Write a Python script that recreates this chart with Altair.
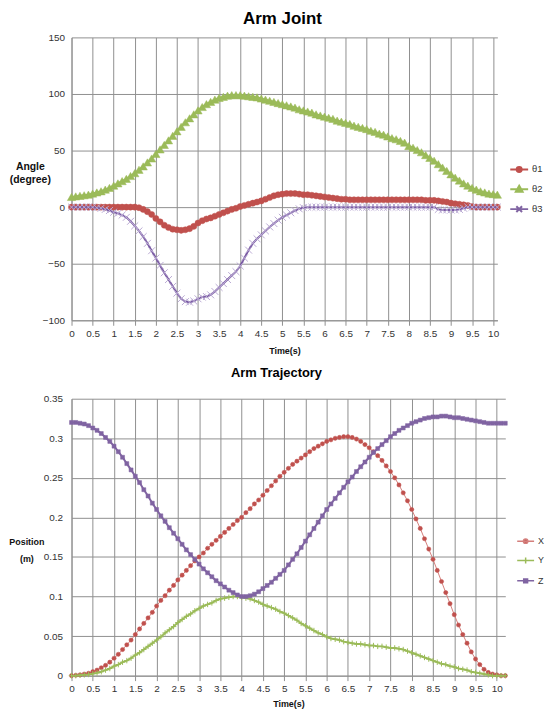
import altair as alt
import pandas as pd

# ---------------- data: top chart (Arm Joint) ----------------
time_top = [round(i * 0.1, 1) for i in range(102)]          # 0.0 .. 10.1 s
theta_names = ["θ1", "θ2", "θ3"]

theta1 = [0, 0, 0, 0, 0, 0, 0, 0, 0, 0,
          0, 0, 0, 0, 0, 0, -0.5, -2, -4, -6.5,
          -10, -13, -16, -18, -19.5, -20, -20.5, -20, -19, -17,
          -14, -12, -10.5, -9.5, -8, -6.5, -5, -3.5, -2, -1,
          0.5, 1.5, 2.5, 3.5, 4.5, 5.5, 7, 8.5, 10, 11,
          11.5, 12, 12, 12, 11.5, 11, 11, 10.5, 10, 9.5,
          9, 8.5, 8, 7.5, 7, 7, 6.5, 6.5, 6.5, 6.5,
          6.5, 6.5, 6.5, 6.5, 6.5, 6.5, 6.5, 6.5, 6.5, 6.5,
          6.5, 6.5, 6.5, 6.5, 6, 6, 6, 5.5, 5, 4.5,
          3.5, 3, 2.5, 2, 1.5, 0.5, 0, 0, 0, 0,
          0, 0]
theta2 = [9, 9.5, 10, 10.5, 11, 12, 13, 14, 15.5, 17,
          19, 21, 23, 25, 27.5, 30, 33, 36, 39.5, 43,
          47, 51, 55, 59, 63, 67, 71, 75, 78.5, 82,
          85.5, 88.5, 91, 93, 95, 96.5, 97.5, 98.5, 99, 99,
          99, 98.5, 98, 97.5, 97, 96, 95, 94, 93, 92,
          91, 90, 89, 88, 86.5, 85.5, 84.5, 83.5, 82, 81,
          80, 79, 78, 76.5, 75.5, 74.5, 73.5, 72, 71, 70,
          69, 67.5, 66.5, 65, 64, 62.5, 61, 60, 58.5, 57,
          54, 52.5, 50.5, 48.5, 46, 43.5, 41, 38, 35, 32,
          29, 26, 23.5, 21, 19, 17, 15.5, 14, 13, 12,
          11.5, 11]
theta3 = [0, 0, 0, 0, 0, 0, -0.5, -1, -2, -3,
          -4.5, -5.5, -7, -9, -12.5, -16.5, -21, -26, -32, -38.5,
          -45, -51.5, -58, -64, -70, -76, -81, -83.5, -84, -83,
          -81, -79.5, -79, -77.5, -74.5, -71, -67.5, -64, -60.5, -57,
          -52, -45, -38, -32, -28, -24.5, -21, -17.5, -14.5, -11.5,
          -9, -7, -5, -3, -1.5, -0.5, 0, 0, 0, 0,
          0, 0, 0, 0, 0, 0, 0, 0, 0, 0,
          0, 0, 0, 0, 0, 0, 0, 0, 0, 0,
          0, 0, 0, 0, 0, 0, 0, -2, -2.5, -2.5,
          -2.5, -2.5, -2, -1, 0, 0, 0, 0, 0, 0,
          0, 0]

# ---------------- data: bottom chart (Arm Trajectory) ----------------
time_bot = [round(i * 0.1, 1) for i in range(103)]          # 0.0 .. 10.2 s
pos_names = ["X", "Y", "Z"]

pos_x = [0, 0.0005, 0.001, 0.002, 0.003, 0.005, 0.007, 0.01, 0.013, 0.017,
         0.022, 0.027, 0.033, 0.039, 0.045, 0.052, 0.059, 0.066, 0.073, 0.08,
         0.088, 0.095, 0.101, 0.108, 0.114, 0.121, 0.127, 0.133, 0.139, 0.145,
         0.15, 0.155, 0.161, 0.166, 0.171, 0.176, 0.181, 0.186, 0.191, 0.196,
         0.2, 0.206, 0.211, 0.217, 0.222, 0.228, 0.234, 0.24, 0.246, 0.252,
         0.257, 0.262, 0.267, 0.271, 0.275, 0.279, 0.283, 0.287, 0.29, 0.293,
         0.296, 0.298, 0.3, 0.301, 0.302, 0.302, 0.301, 0.299, 0.296, 0.292,
         0.288, 0.283, 0.278, 0.272, 0.265, 0.258, 0.25, 0.241, 0.231, 0.221,
         0.21, 0.198, 0.186, 0.173, 0.16, 0.147, 0.133, 0.119, 0.105, 0.091,
         0.077, 0.064, 0.052, 0.041, 0.03, 0.021, 0.014, 0.008, 0.004, 0.002,
         0.001, 0, 0]
pos_y = [0, 0, 0.0005, 0.001, 0.0015, 0.0025, 0.0035, 0.005, 0.007, 0.009,
         0.012, 0.014, 0.017, 0.019, 0.022, 0.026, 0.029, 0.033, 0.037, 0.041,
         0.045, 0.049, 0.054, 0.058, 0.062, 0.067, 0.071, 0.075, 0.078, 0.082,
         0.085, 0.088, 0.09, 0.092, 0.095, 0.097, 0.098, 0.099, 0.1, 0.1,
         0.099, 0.098, 0.097, 0.095, 0.093, 0.09, 0.088, 0.086, 0.084, 0.081,
         0.079, 0.076, 0.073, 0.07, 0.066, 0.063, 0.06, 0.057, 0.054, 0.052,
         0.049, 0.047, 0.046, 0.045, 0.043, 0.042, 0.041, 0.04, 0.04, 0.039,
         0.038, 0.038, 0.037, 0.037, 0.036, 0.035, 0.035, 0.034, 0.033, 0.031,
         0.029, 0.027, 0.025, 0.023, 0.021, 0.019, 0.017, 0.015, 0.014, 0.012,
         0.011, 0.009, 0.008, 0.007, 0.005, 0.004, 0.003, 0.002, 0.001, 0,
         0, 0, 0]
pos_z = [0.32, 0.32, 0.319, 0.318, 0.316, 0.313, 0.31, 0.306, 0.301, 0.296,
         0.29, 0.283, 0.276, 0.268, 0.26, 0.252, 0.244, 0.235, 0.227, 0.218,
         0.21, 0.202, 0.195, 0.187, 0.18, 0.173, 0.166, 0.159, 0.153, 0.147,
         0.141, 0.135, 0.13, 0.125, 0.12, 0.116, 0.112, 0.108, 0.105, 0.102,
         0.1, 0.1, 0.101, 0.103, 0.106, 0.11, 0.114, 0.118, 0.123, 0.128,
         0.133, 0.14, 0.147, 0.154, 0.162, 0.17, 0.178, 0.186, 0.194, 0.202,
         0.21, 0.217, 0.224, 0.231, 0.238, 0.245, 0.251, 0.258, 0.264, 0.27,
         0.276, 0.282, 0.287, 0.292, 0.297, 0.302, 0.306, 0.31, 0.313, 0.316,
         0.319, 0.321, 0.323, 0.325, 0.326, 0.327, 0.327, 0.328, 0.328, 0.327,
         0.326, 0.326, 0.325, 0.324, 0.323, 0.322, 0.321, 0.32, 0.319, 0.319,
         0.319, 0.319, 0.319]

x_tick_values = [0, 0.5, 1, 1.5, 2, 2.5, 3, 3.5, 4, 4.5, 5, 5.5, 6, 6.5, 7,
                 7.5, 8, 8.5, 9, 9.5, 10]
y_top_ticks = [-100, -50, 0, 50, 100, 150]
y_bot_ticks = [0, 0.05, 0.1, 0.15, 0.2, 0.25, 0.3, 0.35]

RED, GREEN, PURPLE = "#C0504D", "#9BBB59", "#8064A2"
FONT = "Liberation Sans"
GRID = "#8f8f8f"

X_SHAPE = "M-1,-1L1,1M-1,1L1,-1"
PLUS_SHAPE = "M-1,0L1,0M0,-1L0,1"


def frame(t, v):
    return pd.DataFrame({"t": t, "v": v})


def series_layers(t, vals, xe, ye, lc, mc, shp, sz, filled, lw):
    d = frame(t, vals)
    line = alt.Chart(d).mark_line(color=lc, strokeWidth=lw, clip=False).encode(x=xe, y=ye)
    if filled:
        pts = alt.Chart(d).mark_point(shape=shp, filled=True, fill=mc, stroke=mc,
                                      strokeWidth=0.5, size=sz, opacity=1, clip=False)
    else:
        pts = alt.Chart(d).mark_point(shape=shp, filled=False, stroke=mc,
                                      strokeWidth=1, size=sz, opacity=1, clip=False)
    return [line, pts.encode(x=xe, y=ye)]


# ---------------- top chart ----------------
xt = alt.X("t:Q", scale=alt.Scale(domain=[0, 10.1], nice=False, zero=False),
           axis=alt.Axis(values=x_tick_values, format=".1~f", title="Time(s)",
                         titleFontSize=9, titleFontWeight="bold", titlePadding=8,
                         tickSize=5, labelPadding=3, labelFlush=False))
yt = alt.Y("v:Q", scale=alt.Scale(domain=[-100, 150], nice=False, zero=False),
           axis=alt.Axis(values=y_top_ticks, title=["Angle", "(degree)"],
                         titleAngle=0, titleAlign="center", titleBaseline="top",
                         titleX=-42, titleY=125, titleFontSize=10.5,
                         titleFontWeight="bold", titleLineHeight=13,
                         ticks=False, labelPadding=7))

top_layers = []
top_layers += series_layers(time_top, theta1, xt, yt, RED, RED, "circle", 38, True, 2)
top_layers += series_layers(time_top, theta2, xt, yt, GREEN, GREEN, "triangle-up", 70, True, 2)
top_layers += series_layers(time_top, theta3, xt, yt, "#7A5BA3", "#B9A9D3", X_SHAPE, 49, False, 2)

top_legend_shapes = [
    "M-1,0L1,0M-0.28,0A0.28,0.28 0 1,0 0.28,0A0.28,0.28 0 1,0 -0.28,0Z",
    "M-1,0L1,0M0,-0.4L0.38,0.27L-0.38,0.27Z",
    "M-1,0L1,0M-0.32,-0.32L0.32,0.32M-0.32,0.32L0.32,-0.32",
]


def top_legend():
    return alt.Legend(title=None, orient="none", legendX=441, legendY=123,
                      symbolSize=324, symbolStrokeWidth=2, rowPadding=3,
                      labelOffset=3, padding=0, labelFontSize=9.5, labelFont=FONT,
                      labelColor="#333")


top_leg = (alt.Chart(pd.DataFrame({"s": theta_names}))
           .transform_filter("false")
           .mark_point(filled=True, opacity=1)
           .encode(
               shape=alt.Shape("s:N", scale=alt.Scale(domain=theta_names, range=top_legend_shapes),
                               legend=top_legend()),
               fill=alt.Fill("s:N", scale=alt.Scale(domain=theta_names, range=[RED, GREEN, PURPLE]),
                             legend=top_legend()),
               stroke=alt.Stroke("s:N", scale=alt.Scale(domain=theta_names, range=[RED, GREEN, PURPLE]),
                                 legend=top_legend()),
           ))

top_chart = alt.layer(*top_layers, top_leg).properties(
    width=429, height=285,
    title=alt.TitleParams("Arm Joint", fontSize=17, font=FONT, fontWeight="bold",
                          anchor="middle", frame="group", offset=4, dx=-2),
)

# ---------------- bottom chart ----------------
xb = alt.X("t:Q", scale=alt.Scale(domain=[0, 10.2], nice=False, zero=False),
           axis=alt.Axis(values=x_tick_values, format=".1~f", title="Time(s)",
                         titleFontSize=9, titleFontWeight="bold", titlePadding=6,
                         tickSize=5, labelPadding=3, labelFlush=False))
yb = alt.Y("v:Q", scale=alt.Scale(domain=[0, 0.35], nice=False, zero=False),
           axis=alt.Axis(values=y_bot_ticks, format=".2~f", title=["Position", "(m)"],
                         titleAngle=0, titleAlign="center", titleBaseline="top",
                         titleX=-45.5, titleY=140, titleFontSize=9,
                         titleFontWeight="bold", titleLineHeight=17,
                         ticks=False, labelPadding=9))

bot_layers = []
bot_layers += series_layers(time_bot, pos_x, xb, yb, "#D47F7C", RED, "circle", 18, True, 1)
bot_layers += series_layers(time_bot, pos_y, xb, yb, GREEN, GREEN, PLUS_SHAPE, 30, False, 2)
bot_layers += series_layers(time_bot, pos_z, xb, yb, PURPLE, PURPLE, "square", 16, True, 2)

bot_legend_shapes = [
    "M-1,0L1,0M-0.26,0A0.26,0.26 0 1,0 0.26,0A0.26,0.26 0 1,0 -0.26,0Z",
    "M-1,0L1,0M0,-0.36L0,0.36",
    "M-1,0L1,0M-0.23,-0.23L0.23,-0.23L0.23,0.23L-0.23,0.23Z",
]


def bot_legend():
    return alt.Legend(title=None, orient="none", legendX=448, legendY=134,
                      symbolSize=289, symbolStrokeWidth=1.5, rowPadding=4.5,
                      labelOffset=3, padding=0, labelFontSize=9, labelFont=FONT,
                      labelColor="#333")


bot_leg = (alt.Chart(pd.DataFrame({"s": pos_names}))
           .transform_filter("false")
           .mark_point(filled=True, opacity=1)
           .encode(
               shape=alt.Shape("s:N", scale=alt.Scale(domain=pos_names, range=bot_legend_shapes),
                               legend=bot_legend()),
               fill=alt.Fill("s:N", scale=alt.Scale(domain=pos_names, range=[RED, GREEN, PURPLE]),
                             legend=bot_legend()),
               stroke=alt.Stroke("s:N", scale=alt.Scale(domain=pos_names, range=["#D47F7C", GREEN, PURPLE]),
                                 legend=bot_legend()),
           ))

bot_chart = alt.layer(*bot_layers, bot_leg).properties(
    width=437, height=279,
    title=alt.TitleParams("Arm Trajectory", fontSize=13, font=FONT, fontWeight="bold",
                          anchor="middle", frame="group", offset=14, dx=-12),
)

chart = (
    alt.vconcat(top_chart, bot_chart, spacing=12)
    .resolve_scale(shape="independent", fill="independent", stroke="independent",
                   x="independent", y="independent")
    .properties(padding={"left": 0, "top": 0, "right": 0, "bottom": 0})
    .configure_view(stroke=None)
    .configure_axis(labelFont=FONT, labelFontSize=10, labelColor="#333",
                    titleFont=FONT, titleColor="#111",
                    gridColor=GRID, gridWidth=1, domainColor=GRID, tickColor=GRID)
)

chart.save("out.html", embed_options={"renderer": "svg", "actions": False})
